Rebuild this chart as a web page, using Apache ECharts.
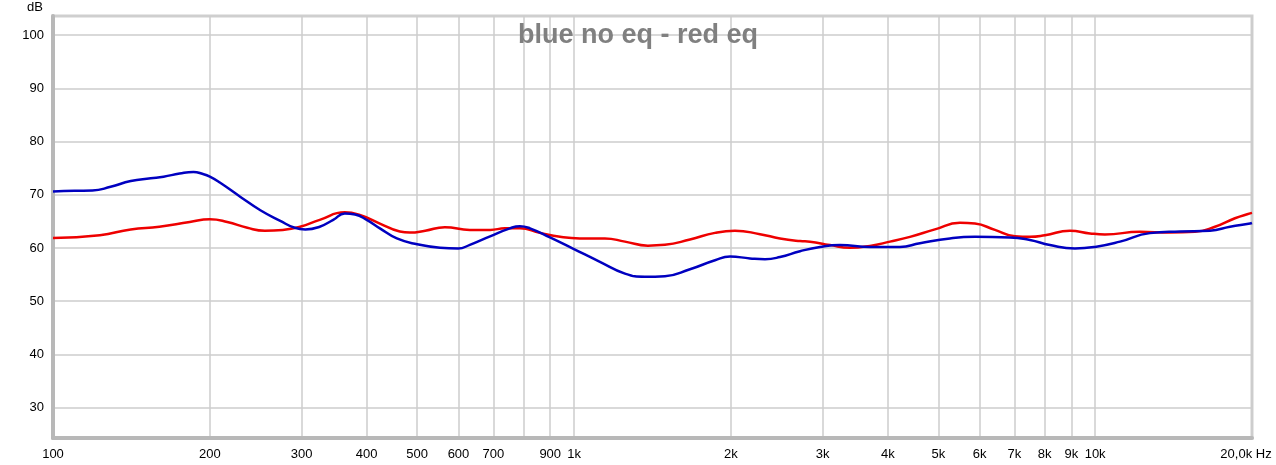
<!DOCTYPE html>
<html>
<head>
<meta charset="utf-8">
<script src="https://cdn.jsdelivr.net/npm/echarts@6/dist/echarts.min.js"></script>
<style>
html,body{margin:0;padding:0;background:#fff;}
#chart{width:1276px;height:465px;}
</style>
</head>
<body>
<div id="chart"></div>
<script>
// Frequencies (Hz) and levels (dB)
const blueFreq = [100,110,119,129,141,154,163,175,186,194,200,209,229,250,273,291,305,325,345,363,380,400,424,457,500,553,599,631,690,753,787,823,899,995,1121,1252,1368,1494,1669,1864,1992,2176,2325,2484,2714,2965,3238,3697,4221,4611,5264,5879,6862,7498,8190,9146,9991,11160,12740,14550,16610,18150,19830,20000];
const blueDb   = [70.6,70.75,70.8,71.5,72.6,73.1,73.4,74.0,74.3,73.9,73.4,72.3,69.6,67.1,65.1,63.8,63.5,64.0,65.3,66.5,66.3,65.3,63.7,61.8,60.7,60.05,59.9,60.6,62.2,63.7,64.1,63.7,62.0,59.9,57.4,55.2,54.6,54.7,56.0,57.7,58.4,58.05,57.9,58.3,59.4,60.2,60.55,60.2,60.2,60.9,61.8,62.1,62.0,61.5,60.55,59.9,60.2,61.2,62.8,63.1,63.25,64.0,64.6,64.7];
const redFreq  = [100,123,141,160,183,200,216,236,255,276,298,325,363,388,424,463,484,518,565,631,690,737,787,860,940,1026,1146,1252,1386,1494,1669,1864,2036,2274,2484,2714,2836,3098,3384,3697,4039,4412,4926,5502,5879,6423,7016,7498,8011,8946,9772,10440,12190,13920,15540,16980,18550,19830,20000];
const redDb    = [61.9,62.4,63.5,64.0,64.9,65.4,64.9,63.8,63.25,63.4,64.0,65.3,66.7,66.2,64.6,63.1,62.9,63.25,63.9,63.4,63.4,63.7,63.7,62.85,62.1,61.8,61.8,61.2,60.45,60.6,61.6,62.85,63.25,62.6,61.8,61.3,61.2,60.55,60.05,60.4,61.2,62.1,63.5,64.75,64.6,63.4,62.2,62.1,62.4,63.25,62.75,62.55,63.05,62.9,63.05,64.0,65.6,66.5,66.6];

const xGridTicks  = [100,200,300,400,500,600,700,800,900,1000,2000,3000,4000,5000,6000,7000,8000,9000,10000,20000];
const xLabelTicks = [100,200,300,400,500,600,700,900,1000,2000,3000,4000,5000,6000,7000,8000,9000,10000,20000];
const yTicks = [30,40,50,60,70,80,90,100];
const titleText = 'blue no eq - red eq';

const pair = (xs, ys) => xs.map((x, i) => [x, ys[i]]);
const FONT = 'Liberation Sans, Arial, sans-serif';

const chart = echarts.init(document.getElementById('chart'), null, {renderer: 'canvas'});
chart.setOption({
  animation: false,
  backgroundColor: '#ffffff',
  title: {
    text: titleText, left: 'center', top: 17,
    textStyle: {fontFamily: FONT, fontSize: 27, fontWeight: 'bold', color: '#808080'}
  },
  grid: {left: 53, right: 24, top: 16, bottom: 27, show: true, borderColor: '#cfcfcf', borderWidth: 3},
  xAxis: {
    type: 'log', logBase: 10, min: 100, max: 20000,
    axisLine: {show: true, onZero: false, lineStyle: {color: '#b8b8b8', width: 4}},
    axisTick: {show: false, customValues: xGridTicks},
    splitLine: {show: true, lineStyle: {color: '#cccccc', width: 1.5}},
    axisLabel: {
      customValues: xLabelTicks, margin: 10, color: '#000', fontFamily: FONT, fontSize: 13,
      formatter: function (v) {
        const f = Math.round(v);
        if (f >= 20000) return '{hz|20,0k Hz}';
        if (f >= 1000) return (f / 1000) + 'k';
        return String(f);
      },
      rich: {hz: {fontFamily: FONT, fontSize: 13, color: '#000', padding: [0, 12, 0, 0]}}
    }
  },
  yAxis: {
    type: 'value', min: 24.3, max: 103.6,
    axisLine: {show: true, onZero: false, lineStyle: {color: '#b8b8b8', width: 4}},
    axisTick: {show: false, customValues: yTicks},
    splitLine: {show: true, lineStyle: {color: '#cccccc', width: 1.5}},
    axisLabel: {customValues: yTicks, margin: 9, color: '#000', fontFamily: FONT, fontSize: 13}
  },
  graphic: [{
    type: 'text', left: 27, top: 1,
    style: {text: 'dB', fontFamily: FONT, fontSize: 13, fill: '#000'}
  }],
  series: [
    {name: 'red eq', type: 'line', data: pair(redFreq, redDb), smooth: 0.5, showSymbol: false,
     lineStyle: {color: '#ee0000', width: 2.5}, z: 2},
    {name: 'blue no eq', type: 'line', data: pair(blueFreq, blueDb), smooth: 0.5, showSymbol: false,
     lineStyle: {color: '#0000c0', width: 2.5}, z: 3}
  ]
});
</script>
</body>
</html>
